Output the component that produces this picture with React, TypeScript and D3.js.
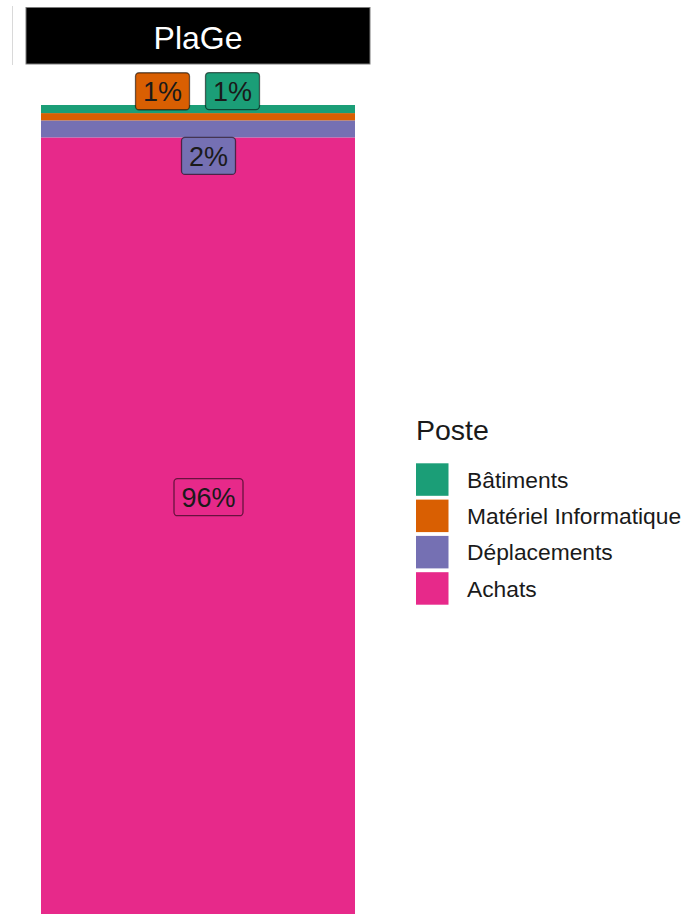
import React from "react";
import * as d3 from "d3";

const facet = "PlaGe";
const legendTitle = "Poste";
const categories = ["Bâtiments", "Matériel Informatique", "Déplacements", "Achats"];
const shares = [1.0, 0.9, 2.1, 96.0];
const labelTexts = ["1%", "1%", "2%", "96%"];
const colors = ["#1B9E77", "#D95F02", "#7570B3", "#E7298A"];

// repel-style nudges for labels (layout only)
const labelNudge: [number, number][] = [
  [34.5, -18],
  [-35.5, -25.5],
  [10.5, 27],
  [10.5, -29],
];

const W = 686;
const H = 914;
const FONT = "'Liberation Sans', Arial, Helvetica, sans-serif";

export default function App() {
  const barLeft = 41;
  const barRight = 355;
  const y = d3.scaleLinear().domain([0, 100]).range([915, 105]);
  const x = d3.scaleBand().domain([facet]).range([barLeft, barRight]).padding(0);
  const cx = (x(facet) as number) + x.bandwidth() / 2;

  const row: Record<string, number> = {};
  categories.forEach((c, i) => (row[c] = shares[i]));
  // bottom-first stacking: Achats at bottom, Bâtiments on top
  const stackKeys = [...categories].reverse();
  const series = d3.stack<Record<string, number>>().keys(stackKeys)([row]);

  const color = d3.scaleOrdinal<string, string>().domain(categories).range(colors);

  const segs = series.map((s) => {
    const cat = s.key;
    const [y0, y1] = s[0];
    return { cat, top: y(y1), bottom: y(y0) };
  });

  const labelFont = 27;
  const labelH = 37;

  return (
    <svg
      width={W}
      height={H}
      style={{ position: "absolute", left: 0, top: 0, display: "block", background: "#fff" }}
      fontFamily={FONT}
    >
      <line x1={12.5} x2={12.5} y1={6} y2={65} stroke="#d9d9d9" strokeWidth={1} />
      {/* strip */}
      <rect x={26} y={7.5} width={344} height={56.5} fill="#000" stroke="#7a7a7a" strokeWidth={1} />
      <text x={cx} y={49} fill="#fff" fontSize={32} textAnchor="middle">
        {facet}
      </text>

      {/* bars */}
      {segs.map((s) => (
        <rect
          key={s.cat}
          x={x(facet)}
          width={x.bandwidth()}
          y={s.top}
          height={s.bottom - s.top}
          fill={color(s.cat)}
        />
      ))}

      {/* labels */}
      {categories.map((c, i) => {
        const seg = segs.find((s) => s.cat === c)!;
        const mid = (seg.top + seg.bottom) / 2;
        const lx = cx + labelNudge[i][0];
        const ly = mid + labelNudge[i][1];
        const txt = labelTexts[i];
        const tw = txt.length === 3 ? 54 : 39;
        const bw = tw + 15;
        return (
          <g key={"lab" + c}>
            <rect
              x={lx - bw / 2}
              y={ly - labelH / 2}
              width={bw}
              height={labelH}
              rx={3.5}
              fill={color(c)}
              stroke="rgba(0,0,0,0.55)"
              strokeWidth={1.3}
            />
            <text x={lx} y={ly} dy="0.36em" fontSize={labelFont} textAnchor="middle" fill="#1a1a1a">
              {txt}
            </text>
          </g>
        );
      })}

      {/* legend */}
      <text x={416} y={440} fontSize={28.5} fill="#1a1a1a">
        {legendTitle}
      </text>
      {categories.map((c, i) => {
        const ky = 463.3 + i * 36.3;
        return (
          <g key={"leg" + c}>
            <rect x={416} y={ky} width={32.5} height={32.5} fill={color(c)} />
            <text x={467} y={ky + 16.2} dy="0.36em" fontSize={22.8} fill="#1a1a1a">
              {c}
            </text>
          </g>
        );
      })}
    </svg>
  );
}
